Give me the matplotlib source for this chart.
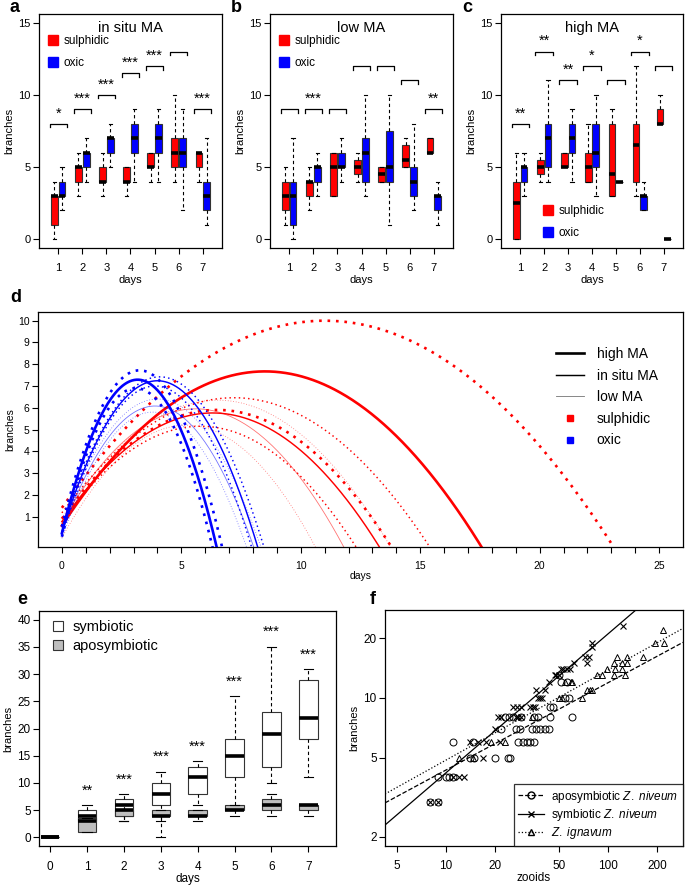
import matplotlib
matplotlib.use('Agg')
import matplotlib.pyplot as plt
from matplotlib.lines import Line2D
from matplotlib.ticker import NullLocator
import numpy as np

plt.rcParams['font.family'] = ['Liberation Sans', 'DejaVu Sans']
plt.rcParams['mathtext.fontset'] = 'custom'
plt.rcParams['mathtext.rm'] = 'Liberation Sans'
plt.rcParams['mathtext.it'] = 'Liberation Sans:italic'

RED = '#FF0000'
BLUE = '#0000FF'
GREY = '#BEBEBE'

days = [1, 2, 3, 4, 5, 6, 7]

# panels a-c: box stats per day (whisker low, q1, median, q3, whisker high)
insitu_sulph = [[0, 3, 3, 3, 4, 4, 4], [1, 4, 4, 4, 5, 5, 5], [3, 5, 4, 4, 5, 6, 6],
                [3, 5, 5, 5, 6, 7, 6], [4, 6, 6, 5, 6, 10, 6]]
insitu_oxic = [[2, 4, 5, 4, 4, 2, 1], [3, 5, 6, 6, 6, 5, 2], [3, 6, 7, 7, 7, 6, 3],
               [4, 6, 7, 8, 8, 7, 4], [5, 7, 8, 9, 9, 9, 7]]
low_sulph = [[1, 2, 3, 4, 4, 5, 6], [2, 3, 3, 4.5, 4, 5, 6], [3, 4, 5, 5, 4.5, 5.5, 6],
             [4, 4, 6, 5.5, 5, 6.5, 7], [5, 5, 6, 6, 5, 7, 7]]
low_oxic = [[0, 3, 4, 3, 1, 2, 1], [1, 4, 5, 4, 4, 3, 2], [3, 5, 5, 6, 5, 4, 3],
            [4, 5, 6, 7, 7.5, 5, 3], [7, 6, 7, 10, 10, 8, 4]]
high_sulph = [[0, 4, 5, 4, 3, 3, 8], [0, 4.5, 5, 4, 3, 4, 8], [2.5, 5, 5, 5, 4.5, 6.5, 8],
              [4, 5.5, 6, 6, 8, 8, 9], [6, 6, 6, 8, 9, 12, 10]]
high_oxic = [[3, 4, 4, 3, 4, 2, 0], [4, 5, 6, 5, 4, 2, 0], [5, 7, 7, 6, 4, 3, 0],
             [5, 8, 8, 8, 4, 3, 0], [6, 11, 9, 10, 4, 4, 0]]

insitu_bracket = [8, 9, 10, 11.5, 12, 13, 9]
insitu_stars = ['*', '***', '***', '***', '***', '', '***']
low_bracket = [9, 9, 9, 12, 12, 11, 9]
low_stars = ['', '***', '', '', '', '', '**']
high_bracket = [8, 13, 11, 12, 11, 13, 12]
high_stars = ['**', '**', '**', '*', '', '*', '']

# panel d: fitted parabolas [fit, upper, lower] per MA level (high, in situ, low)
ma_levels = ['high MA', 'in situ MA', 'low MA']
sulph_peak_day = [[8.5, 11.0, 6.5], [6.3, 7.2, 5.8], [5.6, 6.5, 5.2]]
sulph_peak_val = [[7.67, 10.0, 5.9], [5.76, 6.46, 5.15], [5.95, 6.35, 5.2]]
sulph_start = [[0.58, 1.4, 0.9], [0.76, 1.17, 0.75], [0.77, 0.94, 0.03]]
oxic_peak_day = [[3.17, 3.25, 3.1], [4.0, 4.1, 3.9], [3.9, 4.0, 3.8]]
oxic_peak_val = [[7.29, 7.72, 6.9], [7.24, 7.42, 7.0], [6.08, 6.4, 5.8]]
oxic_start = [[0.23, 0.54, 0.07], [0.3, 0.5, 0.1], [0.3, 0.6, 0.0]]

# panel e
days_e = [0, 1, 2, 3, 4, 5, 6, 7]
sym_stats = [[0, 3, 3, 0, 6, 5, 10, 11], [0, 3, 4, 6, 8, 11, 13, 18], [0, 4, 6, 8, 11, 15, 19, 22],
             [0, 5, 7, 10, 13, 18, 23, 29], [0, 6, 8, 12, 14, 26, 35, 31]]
apo_stats = [[0, 1, 3, 3, 3, 4, 4, 4], [0, 1, 4, 4, 4, 5, 5, 5], [0, 3, 5, 4, 4, 5, 6, 6],
             [0, 3.5, 5, 5, 5, 6, 7, 6], [0, 3.5, 6, 5, 5, 6, 8, 6]]
e_star_day = [1, 2, 3, 4, 5, 6, 7]
e_star_y = [9.4, 11.4, 15.5, 17.4, 29.3, 38.6, 34.3]
e_stars = ['**', '***', '***', '***', '***', '***', '***']

# panel f
apo_zooids = [8, 9, 9, 10, 10.5, 11, 11, 14, 15, 20, 24, 25, 14.7, 28, 30, 31.5, 33, 35,
              22, 27, 28.5, 34, 36, 38, 41, 43, 23, 24.5, 26, 29, 35, 37, 44, 60,
              44, 46, 54, 57, 51, 56, 49.5]
apo_branches = [3, 3, 4, 4, 4, 4, 6, 5, 5, 5, 5, 5, 6, 6, 6, 6, 6, 6,
                7, 7, 7, 7, 7, 7, 7, 7, 8, 8, 8, 8, 8, 8, 8, 8,
                9, 9, 10, 10, 12, 12, 13]
sym_zooids = [8, 9, 11, 12, 13, 17, 14, 15.8, 17.8, 21.5, 20, 21, 22, 27, 28, 29,
              26, 27.5, 29, 33, 34.5, 35.5, 37, 38, 39, 36, 41, 43, 47, 48, 50,
              51, 53, 56, 58, 62, 74, 72, 76, 79, 80, 124]
sym_branches = [3, 3, 4, 4, 4, 5, 6, 6, 6, 6, 7, 8, 8, 8, 8, 8,
                9, 9, 9, 9, 9, 9, 10, 10, 10, 11, 11, 12, 13, 13, 13,
                14, 14, 14, 14, 15, 15, 16, 16, 18, 19, 23]
ign_zooids = [12, 14.7, 19, 23, 34, 50, 52, 69, 74, 77, 79, 54, 59, 60,
              85, 91, 109, 127, 98, 110, 121, 108, 121, 131, 113, 131, 163, 194, 222, 219]
ign_branches = [5, 5, 6, 6, 8, 10, 10, 10, 11, 11, 11, 12, 12, 12,
                13, 13, 13, 13, 14, 14, 14, 15, 15, 15, 16, 16, 16, 19, 19, 22]
# log10(branches) = intercept + slope * log10(zooids)
fit_names = ['aposymbiotic', 'symbiotic', 'ignavum']
fit_intercept = [0.197, -0.077, 0.233]
fit_slope = [0.44, 0.70, 0.454]

W, H = 685, 885
fig = plt.figure(figsize=(W / 100, H / 100), dpi=100)


def px_axes(l, t, r, b):
    return fig.add_axes([l / W, 1 - b / H, (r - l) / W, (b - t) / H])


def letter(x, y, s):
    fig.text(x / W, 1 - y / H, s, fontsize=13, fontweight='bold', va='center', ha='left')


def style(ax, size=8, xpad=7):
    for s in ax.spines.values():
        s.set_linewidth(0.9)
    ax.tick_params(direction='out', length=4, width=0.8, labelsize=size, pad=2)
    ax.tick_params(axis='x', pad=xpad)


def boxes(ax, st, pos, color, width):
    stats = [dict(whislo=st[0][i], q1=st[1][i], med=st[2][i], q3=st[3][i], whishi=st[4][i])
             for i in range(len(pos))]
    ax.bxp(stats, positions=pos, widths=width, patch_artist=True, showfliers=False,
           manage_ticks=False, capwidths=width * 0.5,
           boxprops=dict(facecolor=color, edgecolor='#333333', linewidth=0.8),
           medianprops=dict(color='black', linewidth=2.6, solid_capstyle='butt'),
           whiskerprops=dict(color='black', linestyle=(0, (3, 2.5)), linewidth=0.8),
           capprops=dict(color='black', linewidth=0.8))


def box_panel(ax, sulph, oxic, bracket, stars, title, legend_loc):
    boxes(ax, sulph, [d - 0.16 for d in days], RED, 0.28)
    boxes(ax, oxic, [d + 0.16 for d in days], BLUE, 0.28)
    for d, h, s in zip(days, bracket, stars):
        ax.plot([d - 0.36, d - 0.36, d + 0.36, d + 0.36], [h - 0.25, h, h, h - 0.25],
                color='black', lw=0.9)
        if s:
            ax.annotate(s, (d, h + 1.0), xytext=(0, -3), textcoords='offset points',
                        ha='center', va='center', fontsize=10.5)
    ax.set_xlim(0.2, 7.8)
    ax.set_ylim(-0.6, 15.6)
    ax.set_xticks(days)
    ax.set_yticks([0, 5, 10, 15])
    ax.set_xlabel('days', fontsize=8, labelpad=1)
    ax.set_ylabel('branches', fontsize=8, labelpad=3)
    ax.text(0.5, 0.94, title, transform=ax.transAxes, ha='center', va='center', fontsize=10.5)
    handles = [Line2D([], [], ls='', marker='s', ms=7, color=RED),
               Line2D([], [], ls='', marker='s', ms=7, color=BLUE)]
    ax.legend(handles, ['sulphidic', 'oxic'], frameon=False, fontsize=8.5, handlelength=1.0,
              handletextpad=0.4, labelspacing=0.85, borderaxespad=0, loc='upper left',
              bbox_to_anchor=legend_loc)
    style(ax)


ax_a = px_axes(39, 14, 222, 248)
box_panel(ax_a, insitu_sulph, insitu_oxic, insitu_bracket, insitu_stars, 'in situ MA',
          (0.02, 0.93))
letter(9, 8, 'a')
ax_b = px_axes(270, 14, 453, 248)
box_panel(ax_b, low_sulph, low_oxic, low_bracket, low_stars, 'low MA', (0.02, 0.93))
letter(231, 8, 'b')
ax_c = px_axes(501, 14, 683, 248)
box_panel(ax_c, high_sulph, high_oxic, high_bracket, high_stars, 'high MA', (0.2, 0.205))
letter(462, 8, 'c')

# panel d
ax_d = px_axes(38, 312, 683, 547)
xs = np.linspace(0, 26, 800)
widths = [1.9, 1.05, 0.6]
alphas = [1.0, 1.0, 0.55]
for color, pday, pval, start in [(RED, sulph_peak_day, sulph_peak_val, sulph_start),
                                 (BLUE, oxic_peak_day, oxic_peak_val, oxic_start)]:
    for lvl in range(3):
        for k in range(3):
            xv, yv, y0 = pday[lvl][k], pval[lvl][k], start[lvl][k]
            ys = yv - (yv - y0) * ((xs - xv) / xv) ** 2
            ls = '-' if k == 0 else (0, (1, 2.2))
            ax_d.plot(xs, ys, color=color, lw=widths[lvl], ls=ls, alpha=alphas[lvl])
ax_d.set_xlim(-1, 26)
ax_d.set_ylim(-0.4, 10.4)
ax_d.set_xticks(range(0, 26))
ax_d.set_xticklabels([str(v) if v % 5 == 0 else '' for v in range(0, 26)])
ax_d.set_yticks(range(1, 11))
ax_d.set_xlabel('days', fontsize=7.5, labelpad=0)
ax_d.set_ylabel('branches', fontsize=7.5, labelpad=2)
style(ax_d, 7.5, xpad=6)
d_handles = [Line2D([], [], color='black', lw=widths[i], alpha=alphas[i]) for i in range(3)]
d_handles += [Line2D([], [], ls='', marker='s', ms=5, color=RED),
              Line2D([], [], ls='', marker='s', ms=5, color=BLUE)]
ax_d.legend(d_handles, ma_levels + ['sulphidic', 'oxic'], frameon=False, fontsize=10,
            handlelength=2.0, handletextpad=0.9, labelspacing=0.55, borderaxespad=0,
            loc='upper left', bbox_to_anchor=(0.795, 0.875))
letter(10, 298, 'd')

# panel e
ax_e = px_axes(39, 611, 336, 846)
boxes(ax_e, sym_stats, days_e, 'white', 0.5)
boxes(ax_e, apo_stats, days_e, GREY, 0.5)
for d, y, s in zip(e_star_day, e_star_y, e_stars):
    ax_e.annotate(s, (d, y), xytext=(0, -3), textcoords='offset points',
                  ha='center', va='center', fontsize=10.5)
ax_e.set_xlim(-0.3, 7.75)
ax_e.set_ylim(-1.6, 41.6)
ax_e.set_xticks(days_e)
ax_e.set_yticks(range(0, 41, 5))
ax_e.set_xlabel('days', fontsize=8.5, labelpad=0)
ax_e.set_ylabel('branches', fontsize=8, labelpad=3)
style(ax_e, 8.5)
e_handles = [Line2D([], [], ls='', marker='s', ms=7, mfc='white', mec='#333333', mew=0.8),
             Line2D([], [], ls='', marker='s', ms=7, mfc=GREY, mec='#333333', mew=0.8)]
ax_e.legend(e_handles, ['symbiotic', 'aposymbiotic'], frameon=False, fontsize=10.5,
            handlelength=1.0, handletextpad=0.5, labelspacing=0.3, borderaxespad=0,
            loc='upper left', bbox_to_anchor=(0.02, 0.985))
letter(17, 599, 'e')

# panel f
ax_f = px_axes(385, 610, 683, 846)
ax_f.set_xscale('log')
ax_f.set_yscale('log')
ax_f.set_xlim(4.22, 289)
ax_f.set_ylim(1.80, 27.7)
mk = dict(ls='', mfc='none', mec='black', mew=0.7, ms=5)
ax_f.plot(apo_zooids, apo_branches, marker='o', **mk)
ax_f.plot(sym_zooids, sym_branches, marker='x', ls='', color='black', mew=0.8, ms=5)
ax_f.plot(ign_zooids, ign_branches, marker='^', **mk)
zx = np.array([4.22, 289])
fit_ls = ['--', '-', ':']
for a, b, ls in zip(fit_intercept, fit_slope, fit_ls):
    ax_f.plot(zx, 10 ** (a + b * np.log10(zx)), color='black', lw=0.9, ls=ls)
ax_f.set_xticks([5, 10, 20, 50, 100, 200])
ax_f.set_xticklabels(['5', '10', '20', '50', '100', '200'])
ax_f.set_yticks([2, 5, 10, 20])
ax_f.set_yticklabels(['2', '5', '10', '20'])
ax_f.xaxis.set_minor_locator(NullLocator())
ax_f.yaxis.set_minor_locator(NullLocator())
ax_f.set_xlabel('zooids', fontsize=8.5, labelpad=0)
ax_f.set_ylabel('branches', fontsize=8, labelpad=3)
style(ax_f, 8.5, xpad=6)
f_handles = [Line2D([], [], color='black', lw=0.9, ls='--', marker='o', mfc='none', ms=5),
             Line2D([], [], color='black', lw=0.9, ls='-', marker='x', ms=5),
             Line2D([], [], color='black', lw=0.9, ls=':', marker='^', mfc='none', ms=5)]
leg = ax_f.legend(f_handles, [r'aposymbiotic $\it{Z.\ niveum}$', r'symbiotic $\it{Z.\ niveum}$',
                              r'$\it{Z.\ ignavum}$'],
                  fontsize=8.5, handlelength=2.2, handletextpad=0.6, labelspacing=0.2,
                  loc='lower right', borderaxespad=0, fancybox=False, borderpad=0.4)
leg.get_frame().set_edgecolor('black')
leg.get_frame().set_linewidth(0.9)
letter(370, 599, 'f')

fig.savefig('out.png', dpi=100)
